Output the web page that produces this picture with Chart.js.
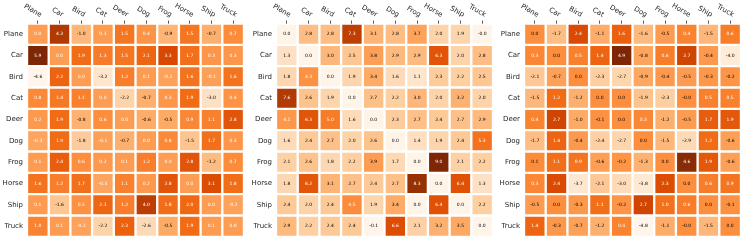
<!DOCTYPE html>
<html>
<head>
<meta charset="utf-8">
<script src="https://cdn.jsdelivr.net/npm/chart.js@4.4.1/dist/chart.umd.min.js"></script>
<style>
  body { margin: 0; background: #fff; }
  .panel { position: absolute; top: 0; width: 248px; height: 245px; }
</style>
</head>
<body>
<div class="panel" style="left:0px"><canvas id="heat0" width="248" height="245"></canvas></div>
<div class="panel" style="left:249px"><canvas id="heat1" width="248" height="245"></canvas></div>
<div class="panel" style="left:497px"><canvas id="heat2" width="248" height="245"></canvas></div>
<script>
const classes = ['Plane', 'Car', 'Bird', 'Cat', 'Deer', 'Dog', 'Frog', 'Horse', 'Ship', 'Truck'];

// left panel
const valuesLeft = [
    [0.0, 4.3, -1.0, 0.1, 1.5, 0.4, -0.9, 1.5, -0.7, 0.7],
    [5.9, 0.0, 1.9, 1.3, 1.5, 2.1, 3.3, 1.7, 0.3, 0.3],
    [-4.6, 2.2, 0.0, -3.2, 1.2, 0.1, -0.2, 1.6, -0.1, 1.6],
    [0.8, 1.4, 1.1, 0.0, -2.2, -0.7, 0.3, 1.9, -3.0, 0.4],
    [0.2, 1.9, -0.8, 0.6, 0.0, -0.6, -0.5, 0.9, 1.1, 2.8],
    [-0.3, 1.9, -1.8, -0.1, -0.7, 0.0, 0.8, -1.5, 1.7, 0.3],
    [0.1, 2.4, 0.6, 0.2, 0.1, 1.2, 0.0, 2.8, -1.2, 0.7],
    [1.6, 1.2, 1.7, -0.3, 1.1, 0.2, 2.8, 0.0, 3.1, 1.8],
    [0.1, -1.6, 0.5, 2.1, 1.2, 4.0, 1.8, 2.0, 0.0, -0.2],
    [1.0, 0.1, -0.2, -2.2, 2.3, -2.6, -0.5, 1.9, 0.1, 0.0]
];

// middle panel
const valuesMiddle = [
    [0.0, 2.8, 2.8, 7.3, 3.1, 2.8, 3.7, 2.0, 1.9, -0.02],
    [1.3, 0.0, 3.0, 2.5, 3.8, 2.9, 2.9, 6.3, 2.0, 2.8],
    [1.8, 4.3, 0.0, 1.9, 3.4, 1.6, 1.1, 2.3, 2.2, 2.5],
    [7.6, 2.6, 1.9, 0.0, 2.7, 2.2, 3.0, 2.0, 3.2, 2.0],
    [4.1, 6.3, 5.0, 1.6, 0.0, 2.3, 2.7, 2.4, 2.7, 2.9],
    [1.6, 2.4, 2.7, 2.0, 2.6, 0.0, 1.4, 1.9, 2.4, 5.3],
    [2.1, 2.6, 1.8, 2.2, 3.9, 1.7, 0.0, 9.0, 2.1, 2.2],
    [1.8, 6.2, 3.1, 2.7, 2.4, 2.7, 8.3, 0.0, 6.4, 1.3],
    [2.4, 2.0, 2.4, 4.5, 1.9, 3.4, 0.0, 6.4, 0.0, 2.2],
    [2.9, 2.2, 2.4, 2.4, -0.1, 6.6, 2.1, 3.2, 3.5, 0.0]
];

// right panel
const valuesRight = [
    [0.0, -1.7, 2.4, -1.1, 1.6, -1.6, -0.5, 0.4, -1.5, 0.6],
    [0.3, 0.0, 0.5, 1.4, 4.9, -0.8, 0.6, 2.7, -0.4, -4.0],
    [-2.1, -0.7, 0.0, -2.3, -2.7, -0.9, -0.4, -0.5, -0.3, -0.2],
    [-1.5, 1.2, -1.2, 0.0, 0.0, -1.9, -2.3, -0.02, 0.5, 0.5],
    [0.4, 2.7, -1.0, -0.1, 0.0, 0.3, -1.2, -0.5, 1.7, 1.9],
    [-1.7, 1.4, -0.4, -2.4, -2.7, 0.0, -1.5, -2.9, 1.2, -0.6],
    [0.1, 1.1, 0.9, -0.6, -0.2, -1.3, 0.0, 4.6, 1.9, -0.6],
    [0.3, 2.4, -3.7, -2.1, -3.0, -3.8, 2.3, 0.0, 0.6, 0.9],
    [-0.5, 0.0, -0.3, 1.1, -0.2, 2.7, 1.0, 0.6, 0.0, -0.1],
    [1.4, -0.3, -0.7, -1.2, 0.4, -4.8, -1.1, -0.02, -1.5, 0.0]
];

// value above which the cell text turns white, one per panel
const textThresholds = [-0.5, 4.0, 0.15];

// matplotlib "Oranges"
const orangeStops = ['#fff5eb', '#fee6ce', '#fdd0a2', '#fdae6b', '#fd8d3c', '#f16913', '#d94801', '#a63603', '#7f2704'];

function hexToRgb(h) {
    return [parseInt(h.slice(1, 3), 16), parseInt(h.slice(3, 5), 16), parseInt(h.slice(5, 7), 16)];
}

function oranges(t) {
    t = Math.max(0, Math.min(1, t));
    const pos = t * (orangeStops.length - 1);
    const i = Math.min(Math.floor(pos), orangeStops.length - 2);
    const f = pos - i;
    const a = hexToRgb(orangeStops[i]);
    const b = hexToRgb(orangeStops[i + 1]);
    const c = a.map((v, k) => Math.round(v + (b[k] - v) * f));
    return `rgb(${c[0]}, ${c[1]}, ${c[2]})`;
}

// writes the value in every cell
const cellText = {
    id: 'cellText',
    afterDatasetsDraw(chart, args, opts) {
        const ctx = chart.ctx;
        ctx.save();
        ctx.font = '4.5px "DejaVu Sans"';
        ctx.textAlign = 'center';
        ctx.textBaseline = 'middle';
        chart.data.datasets.forEach((ds, r) => {
            chart.getDatasetMeta(r).data.forEach((bar, j) => {
                const v = opts.values[r][j];
                ctx.fillStyle = v > opts.threshold ? '#ffffff' : '#000000';
                ctx.fillText(v.toFixed(1), bar.x, (bar.y + bar.base) / 2);
            });
        });
        ctx.restore();
    }
};

// top labels, turned clockwise like the matplotlib heatmap example
const topLabels = {
    id: 'topLabels',
    afterDraw(chart) {
        const scale = chart.scales.x;
        const ctx = chart.ctx;
        ctx.save();
        ctx.font = '7px "DejaVu Sans"';
        ctx.fillStyle = '#262626';
        ctx.textAlign = 'right';
        ctx.textBaseline = 'bottom';
        scale.ticks.forEach((t, i) => {
            const x = scale.getPixelForTick(i);
            ctx.save();
            ctx.translate(x + 1.5, chart.chartArea.top - 5);
            ctx.rotate(Math.PI / 6);
            ctx.fillText(classes[i], 0, 0);
            ctx.restore();
        });
        ctx.restore();
    }
};

function drawHeatmap(canvasId, values, threshold) {
    const flat = values.flat();
    const vmin = Math.min(...flat);
    const vmax = Math.max(...flat);

    const datasets = values.map((row, r) => ({
        data: classes.map(() => [r, r + 1]),
        backgroundColor: row.map(v => oranges((v - vmin) / (vmax - vmin))),
        borderColor: '#ffffff',
        borderWidth: 1.5,
        borderSkipped: false,
        grouped: false,
        barPercentage: 1,
        categoryPercentage: 1
    }));

    new Chart(document.getElementById(canvasId), {
        type: 'bar',
        data: { labels: classes, datasets: datasets },
        options: {
            responsive: false,
            animation: false,
            events: [],
            layout: { padding: { left: 0, right: 4, top: 0, bottom: 5 } },
            plugins: {
                legend: { display: false },
                tooltip: { enabled: false },
                cellText: { values: values, threshold: threshold }
            },
            scales: {
                x: {
                    type: 'category',
                    position: 'top',
                    offset: true,
                    ticks: { display: false },
                    grid: {
                        drawOnChartArea: false,
                        offset: false,
                        color: '#333333',
                        lineWidth: 0.8,
                        tickLength: 3
                    },
                    border: { display: false },
                    afterFit: scale => { scale.height = 23.5; }
                },
                y: {
                    type: 'linear',
                    reverse: true,
                    min: 0,
                    max: 10,
                    afterBuildTicks: scale => {
                        scale.ticks = classes.map((c, i) => ({ value: i + 0.5 }));
                    },
                    ticks: {
                        autoSkip: false,
                        padding: 4,
                        color: '#262626',
                        font: { family: 'DejaVu Sans', size: 7 },
                        callback: value => classes[Math.floor(value)]
                    },
                    grid: { display: false, drawTicks: false },
                    border: { display: false },
                    afterFit: scale => { scale.width = 27; }
                }
            }
        },
        plugins: [cellText, topLabels]
    });
}

drawHeatmap('heat0', valuesLeft, textThresholds[0]);
drawHeatmap('heat1', valuesMiddle, textThresholds[1]);
drawHeatmap('heat2', valuesRight, textThresholds[2]);
</script>
</body>
</html>
